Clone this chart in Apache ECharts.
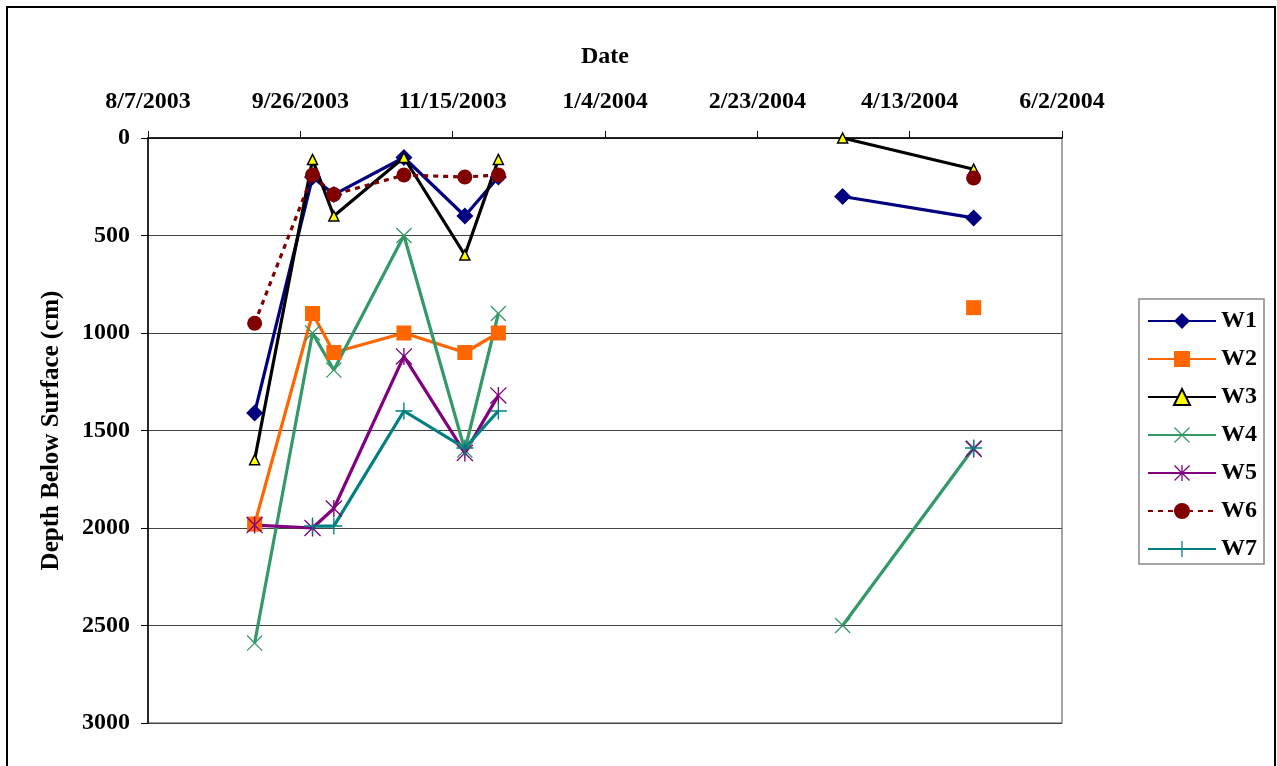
<!DOCTYPE html>
<html>
<head>
<meta charset="utf-8">
<script src="https://cdn.jsdelivr.net/npm/echarts@6/dist/echarts.min.js"></script>
<style>
  html, body { margin: 0; padding: 0; background: #fff; }
  #chart { width: 1277px; height: 766px; }
</style>
</head>
<body>
<div id="chart"></div>
<script>
// sampling dates (fall 2003 campaign, spring 2004 campaign)
const fallDates = ['2003-09-11', '2003-09-30', '2003-10-07', '2003-10-30', '2003-11-19', '2003-11-30']
const springDates = ['2004-03-22', '2004-05-04']

// depth below surface (cm), fall values then spring values
const w1 = [1410, 200, 290, 100, 400, 200, 300, 410]
const w2 = [1980, 900, 1100, 1000, 1100, 1000, null, 870]
const w3 = [1650, 110, 400, 100, 600, 110, 0, 160]
const w4 = [2590, 1000, 1190, 500, 1600, 900, 2500, 1590]
const w5 = [1985, 2000, 1900, 1120, 1615, 1320, null, 1595]
const w6 = [950, 190, 290, 190, 200, 190, null, 205]
const w7 = [null, 1990, 1990, 1400, 1590, 1400, null, 1590]

const depthTicks = [0, 500, 1000, 1500, 2000, 2500, 3000]

const DAY = 86400000
const origin = Date.UTC(2003, 7, 7)
const toDay = s => (Date.parse(s + 'T00:00:00Z') - origin) / DAY
const dayLabel = v => {
  const d = new Date(origin + v * DAY)
  return (d.getUTCMonth() + 1) + '/' + d.getUTCDate() + '/' + d.getUTCFullYear()
}

const font = 'Liberation Serif, Times New Roman, serif'

const plus = 'path://M9.2,0 L10.8,0 L10.8,20 L9.2,20 Z M0,9.2 L20,9.2 L20,10.8 L0,10.8 Z'
const cross = 'path://M0,1.1 L1.1,0 L20,18.9 L18.9,20 Z M18.9,0 L20,1.1 L1.1,20 L0,18.9 Z'
const star = 'path://M0,1.1 L1.1,0 L20,18.9 L18.9,20 Z M18.9,0 L20,1.1 L1.1,20 L0,18.9 Z M9.2,0 L10.8,0 L10.8,20 L9.2,20 Z'

const wells = [
  { name: 'W1', values: w1, color: '#000080', line: '#000080', symbol: 'diamond', size: 17 },
  { name: 'W2', values: w2, color: '#FF6600', line: '#FF6600', symbol: 'rect', size: 15 },
  { name: 'W3', values: w3, color: '#FFFF00', line: '#000000', symbol: 'triangle', size: 10, border: '#000' },
  { name: 'W4', values: w4, color: '#339966', line: '#339966', symbol: cross, size: 16 },
  { name: 'W5', values: w5, color: '#800080', line: '#800080', symbol: star, size: 17 },
  { name: 'W6', values: w6, color: '#800000', line: '#800000', symbol: 'circle', size: 15, dashed: true },
  { name: 'W7', values: w7, color: '#008080', line: '#008080', symbol: plus, size: 17 }
]

const series = []
wells.forEach(w => {
  const parts = [
    fallDates.map((d, i) => [toDay(d), w.values[i]]),
    springDates.map((d, i) => [toDay(d), w.values[fallDates.length + i]])
  ]
  parts.forEach(data => {
    series.push({
      name: w.name,
      type: 'line',
      data: data.map(p => p[1] === null ? [p[0], '-'] : p),
      symbol: w.symbol,
      symbolSize: w.size,
      showAllSymbol: true,
      connectNulls: false,
      animation: false,
      itemStyle: {
        color: w.color,
        borderColor: w.border || w.color,
        borderWidth: w.border ? 1.5 : 0,
        opacity: 1
      },
      lineStyle: {
        color: w.line,
        width: 3.2,
        type: w.dashed ? [5, 5] : 'solid'
      },
      emphasis: { disabled: true }
    })
  })
})

const chart = echarts.init(document.getElementById('chart'))
chart.setOption({
  backgroundColor: '#fff',
  animation: false,
  graphic: [{
    type: 'rect',
    shape: { x: 7, y: 7, width: 1268, height: 770 },
    style: { fill: 'none', stroke: '#000', lineWidth: 2 },
    silent: true
  }],
  grid: {
    left: 148, right: 215, top: 138, bottom: 43,
    show: true, borderColor: '#888', borderWidth: 1.5, backgroundColor: '#fff'
  },
  legend: {
    orient: 'vertical',
    left: 1139,
    top: 299,
    backgroundColor: '#fff',
    borderColor: '#888',
    borderWidth: 1.5,
    padding: [10, 7, 3, 8],
    itemWidth: 68,
    itemHeight: 20,
    itemGap: 14,
    textStyle: { fontSize: 24, fontWeight: 'bold', fontFamily: font, color: '#000' },
    data: wells.map(w => w.name)
  },
  xAxis: {
    type: 'value',
    position: 'top',
    min: 0,
    max: 300,
    interval: 50,
    name: 'Date',
    nameLocation: 'middle',
    nameGap: 69,
    nameTextStyle: { fontSize: 24, fontWeight: 'bold', fontFamily: font, color: '#000' },
    axisLine: { show: true, lineStyle: { color: '#000', width: 1.5 } },
    axisTick: { show: true, length: 7, lineStyle: { color: '#000', width: 1 } },
    axisLabel: {
      fontSize: 24, fontWeight: 'bold', fontFamily: font, color: '#000', margin: 24,
      formatter: dayLabel
    },
    splitLine: { show: false }
  },
  yAxis: {
    type: 'value',
    inverse: true,
    min: depthTicks[0],
    max: depthTicks[depthTicks.length - 1],
    interval: depthTicks[1] - depthTicks[0],
    name: 'Depth Below Surface (cm)',
    nameLocation: 'middle',
    nameGap: 84,
    nameTextStyle: { fontSize: 25, fontWeight: 'bold', fontFamily: font, color: '#000' },
    axisLine: { show: true, lineStyle: { color: '#000', width: 1.5 } },
    axisTick: { show: true, length: 7, lineStyle: { color: '#000', width: 1 } },
    axisLabel: {
      fontSize: 24, fontWeight: 'bold', fontFamily: font, color: '#000', margin: 18,
      formatter: v => String(v)
    },
    splitLine: { show: true, lineStyle: { color: '#444', width: 1 } }
  },
  series
})
</script>
</body>
</html>
